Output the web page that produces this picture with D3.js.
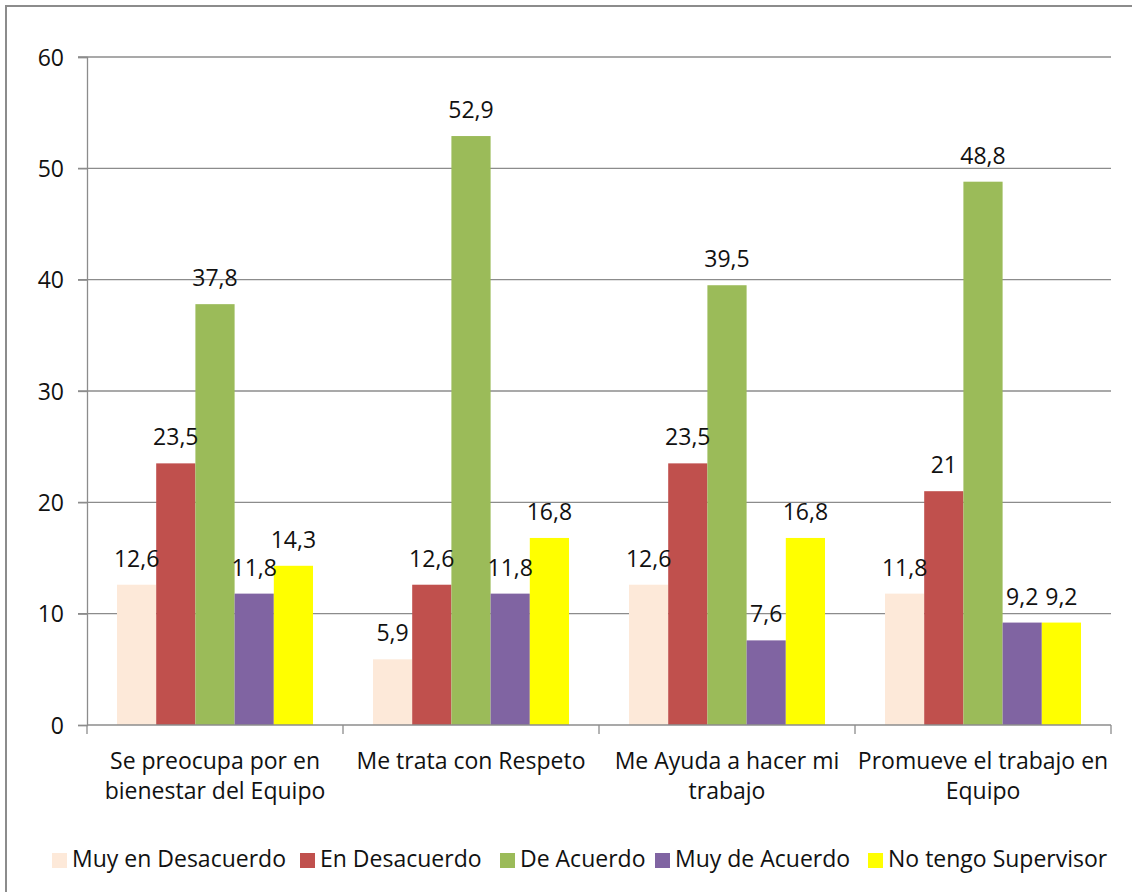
<!DOCTYPE html>
<html>
<head>
<meta charset="utf-8">
<script src="https://cdn.jsdelivr.net/npm/d3@7"></script>
<style>
  body { margin: 0; background: #fff; }
  text { font-family: "Open Sans", sans-serif; fill: #111; }
</style>
</head>
<body>
<svg id="chart" width="1132" height="892"></svg>
<script>
var categories = [
  ["Se preocupa por en", "bienestar del Equipo"],
  ["Me trata con Respeto"],
  ["Me Ayuda a hacer mi", "trabajo"],
  ["Promueve el trabajo en", "Equipo"]
];
var seriesNames = ["Muy en Desacuerdo", "En Desacuerdo", "De Acuerdo", "Muy de Acuerdo", "No tengo Supervisor"];
var seriesColors = ["#fde9d9", "#c0504d", "#9bbb59", "#8064a2", "#ffff00"];
var muyEnDesacuerdo = [12.6, 5.9, 12.6, 11.8];
var enDesacuerdo = [23.5, 12.6, 23.5, 21];
var deAcuerdo = [37.8, 52.9, 39.5, 48.8];
var muyDeAcuerdo = [11.8, 11.8, 7.6, 9.2];
var noTengoSupervisor = [14.3, 16.8, 16.8, 9.2];
var yTicks = [0, 10, 20, 30, 40, 50, 60];

var seriesValues = [muyEnDesacuerdo, enDesacuerdo, deAcuerdo, muyDeAcuerdo, noTengoSupervisor];

var svg = d3.select("#chart"),
    margin = { top: 57, left: 87, right: 21, bottom: 167 },
    width = 1132 - margin.left - margin.right,
    height = 892 - margin.top - margin.bottom;

// outer chart border (only top and left visible in the crop)
svg.append("path")
  .attr("d", "M6,892V6H1132")
  .attr("fill", "none")
  .attr("stroke", "#8c8c8c")
  .attr("stroke-width", 2);

var g = svg.append("g").attr("transform", "translate(" + margin.left + "," + margin.top + ")");

var catIdx = categories.map(function(d, i) { return i; });

var x0 = d3.scaleBand().domain(catIdx).range([0, width]);
var x1 = d3.scaleBand().domain(seriesNames).range([0, x0.bandwidth()]).paddingOuter(0.765);
var y = d3.scaleLinear().domain([0, 60]).range([height, 0]);

// gridlines
g.append("g")
  .selectAll("line")
  .data(yTicks.slice(1))
  .enter().append("line")
    .attr("x1", -9)
    .attr("x2", width)
    .attr("y1", function(d) { return y(d); })
    .attr("y2", function(d) { return y(d); })
    .attr("stroke", "#8c8c8c")
    .attr("stroke-width", 1.3);

// y axis
var yAxis = g.append("g")
  .call(d3.axisLeft(y).tickValues(yTicks).tickSize(9).tickPadding(14));
yAxis.select(".domain").attr("stroke", "#8c8c8c").attr("stroke-width", 1.3);
yAxis.selectAll(".tick line").attr("stroke", "#8c8c8c").attr("stroke-width", 1.3);
yAxis.selectAll(".tick text").style("font-size", "23px").style("font-family", "Open Sans").attr("fill", "#111").attr("dy", "0.35em");

// bars
var groups = g.selectAll(".cat")
  .data(catIdx)
  .enter().append("g")
    .attr("class", "cat")
    .attr("transform", function(i) { return "translate(" + x0(i) + ",0)"; });

groups.selectAll("rect")
  .data(function(i) {
    return seriesNames.map(function(s, k) { return { name: s, k: k, value: seriesValues[k][i] }; });
  })
  .enter().append("rect")
    .attr("x", function(d) { return x1(d.name); })
    .attr("y", function(d) { return y(d.value); })
    .attr("width", x1.bandwidth())
    .attr("height", function(d) { return height - y(d.value); })
    .attr("fill", function(d) { return seriesColors[d.k]; });

groups.selectAll(".lbl")
  .data(function(i) {
    return seriesNames.map(function(s, k) { return { name: s, k: k, value: seriesValues[k][i] }; });
  })
  .enter().append("text")
    .attr("class", "lbl")
    .attr("x", function(d) { return x1(d.name) + x1.bandwidth() / 2; })
    .attr("y", function(d) { return y(d.value) - 18; })
    .attr("text-anchor", "middle")
    .style("font-size", "23px")
    .text(function(d) { return String(d.value).replace(".", ","); });

// x axis
var xAxis = g.append("g")
  .attr("transform", "translate(0," + height + ")");
xAxis.append("line")
  .attr("x1", 0).attr("x2", width)
  .attr("stroke", "#8c8c8c").attr("stroke-width", 1.3);
xAxis.selectAll(".tk")
  .data(catIdx.concat([categories.length]))
  .enter().append("line")
    .attr("x1", function(i) { return i < categories.length ? x0(i) : width; })
    .attr("x2", function(i) { return i < categories.length ? x0(i) : width; })
    .attr("y1", 0).attr("y2", 9)
    .attr("stroke", "#8c8c8c").attr("stroke-width", 1.3);

var catLabels = xAxis.selectAll(".catlbl")
  .data(catIdx)
  .enter().append("text")
    .attr("class", "catlbl")
    .attr("text-anchor", "middle")
    .attr("transform", function(i) { return "translate(" + (x0(i) + x0.bandwidth() / 2) + ",44)"; })
    .style("font-size", "23px");
catLabels.selectAll("tspan")
  .data(function(i) { return categories[i]; })
  .enter().append("tspan")
    .attr("x", 0)
    .attr("dy", function(d, j) { return j === 0 ? 0 : 30; })
    .text(function(d) { return d; });

// legend
var legendX = [52, 300, 500, 655, 868];
var legend = svg.append("g").selectAll(".leg")
  .data(seriesNames)
  .enter().append("g")
    .attr("class", "leg")
    .attr("transform", function(d, k) { return "translate(" + legendX[k] + ",853)"; });
legend.append("rect")
  .attr("width", 15).attr("height", 15)
  .attr("fill", function(d, k) { return seriesColors[k]; });
legend.append("text")
  .attr("x", 20).attr("y", 14)
  .style("font-size", "23px")
  .text(function(d) { return d; });
</script>
</body>
</html>
